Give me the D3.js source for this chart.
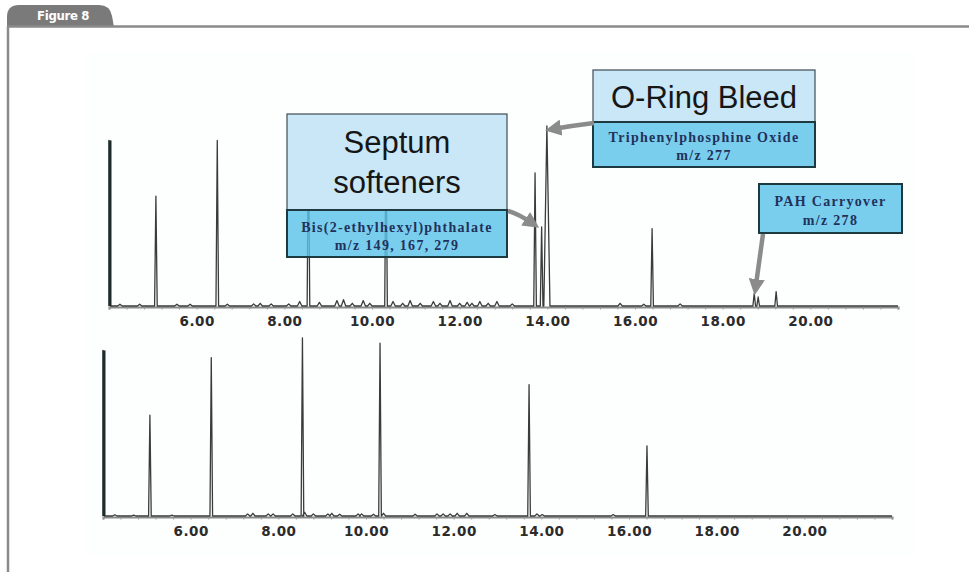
<!DOCTYPE html>
<html>
<head>
<meta charset="utf-8">
<script src="https://cdn.jsdelivr.net/npm/d3@7"></script>
<style>
  body { margin: 0; background: #fff; }
  svg { display: block; }
</style>
</head>
<body>
<div id="chart"></div>
<script>
// retention time in minutes, abundance in % of the tallest peak
const timeRange = [4, 22];
const tickLabels = [6, 8, 10, 12, 14, 16, 18, 20];

// upper run: contaminated inlet
const topPeaks = [[4.0, 92], [5.07, 61], [6.47, 92], [8.55, 98], [10.32, 96],
  [13.72, 74], [13.87, 44], [13.99, 100], [16.39, 43], [18.72, 7], [18.81, 5], [19.22, 8]];
const topNoise = [[4.25, 1], [4.7, 1], [5.55, 1], [5.85, 1], [6.7, 1], [7.3, 1.2], [7.45, 1.5],
  [7.7, 1.2], [8.1, 1.2], [8.35, 2.5], [8.8, 2], [9.2, 3], [9.35, 3.5], [9.55, 1.5], [9.8, 3],
  [9.95, 1.5], [10.48, 2.5], [10.7, 1.5], [10.87, 3], [11.1, 1.5], [11.4, 2.5], [11.55, 1.5],
  [11.78, 3], [12.0, 1.5], [12.17, 2], [12.28, 1.5], [12.46, 2.5], [12.65, 1.5], [12.85, 2.5],
  [13.2, 1.2], [15.66, 1.5], [16.2, 1], [17.03, 1.2]];

// lower run: clean inlet
const bottomPeaks = [[4.0, 92], [5.07, 56], [6.47, 88], [8.55, 99], [10.32, 96],
  [13.72, 73], [16.41, 39]];
const bottomNoise = [[4.27, 0.7], [4.7, 0.5], [5.57, 0.5], [7.3, 1.2], [7.42, 1.5], [7.77, 1.2],
  [7.88, 1.2], [8.33, 1.2], [8.6, 2], [8.8, 1.2], [9.13, 1.2], [9.22, 1.5], [9.4, 1],
  [9.82, 1.2], [9.9, 1.2], [10.17, 1], [10.4, 1.5], [11.12, 1], [11.62, 1.2], [11.76, 1.2],
  [11.92, 1.2], [12.08, 1.5], [12.3, 1.5], [12.94, 0.8], [13.9, 1.2], [14.02, 0.8], [15.64, 0.8]];

const septumTitle = ["Septum", "softeners"];
const septumDetail = ["Bis(2-ethylhexyl)phthalate", "m/z 149, 167, 279"];
const oringTitle = ["O-Ring Bleed"];
const oringDetail = ["Triphenylphosphine Oxide", "m/z 277"];
const pahDetail = ["PAH Carryover", "m/z 278"];

const width = 969, height = 572;
const svg = d3.select('#chart').append('svg')
  .attr('width', width)
  .attr('height', height);

const defs = svg.append('defs');
defs.append('marker')
  .attr('id', 'head')
  .attr('viewBox', '0 0 10 10')
  .attr('refX', 7).attr('refY', 5)
  .attr('markerWidth', 3.6).attr('markerHeight', 3.6)
  .attr('orient', 'auto')
  .append('path')
  .attr('d', 'M0,0L10,5L0,10z')
  .attr('fill', '#8b8b8b');

// figure frame + tab
svg.append('rect')
  .attr('x', 85).attr('y', 53).attr('width', 830).attr('height', 502)
  .attr('fill', '#fdfefe');
svg.append('path')
  .attr('d', 'M7,27 L7,17 Q7,5 19,5 L99,5 Q110,5 112,16 L114,27 Z')
  .attr('fill', '#7a7a7a');
svg.append('text')
  .attr('x', 37).attr('y', 20)
  .attr('fill', '#fff')
  .attr('font-family', '"Liberation Sans Narrow", "DejaVu Sans Condensed", sans-serif')
  .attr('font-weight', 'bold')
  .attr('font-size', 13)
  .attr('letter-spacing', -0.3)
  .text('Figure 8');
svg.append('line')
  .attr('x1', 7).attr('x2', width).attr('y1', 26.5).attr('y2', 26.5)
  .attr('stroke', '#8a8a8a').attr('stroke-width', 2.5);
svg.append('line')
  .attr('x1', 8).attr('x2', 8).attr('y1', 26).attr('y2', height)
  .attr('stroke', '#8a8a8a').attr('stroke-width', 2.5);

function drawPanel(peaks, noise, left, right, base) {
  const x = d3.scaleLinear().domain(timeRange).range([left, right]);
  const y = d3.scaleLinear().domain([0, 100]).range([base, base - 180]);
  const g = svg.append('g');

  // minor ticks every 0.4 min
  const minor = d3.range(0, 46).map(i => timeRange[0] + i * 0.4);
  g.append('g')
    .attr('transform', `translate(0,${base + 1})`)
    .call(d3.axisBottom(x).tickValues(minor).tickSize(2.5).tickFormat(''))
    .call(a => a.select('.domain').attr('stroke', '#8a8a8a').attr('stroke-width', 2.2))
    .call(a => a.selectAll('.tick line').attr('stroke', '#999'));

  g.append('g')
    .attr('transform', `translate(0,${base + 1})`)
    .call(d3.axisBottom(x).tickValues(tickLabels).tickSize(0).tickPadding(9)
      .tickFormat(d3.format('.2f')))
    .call(a => a.select('.domain').remove())
    .call(a => a.selectAll('text')
      .attr('fill', '#2b2b2b')
      .attr('font-family', '"DejaVu Sans", sans-serif')
      .attr('font-weight', 'bold')
      .attr('font-size', 13.5)
      .attr('letter-spacing', 0.5));

  // trace: each peak is a narrow spike on the baseline
  const all = peaks.map(p => [p[0], p[1], 0.03]).concat(noise.map(p => [p[0], p[1], 0.05]))
    .sort((a, b) => a[0] - b[0]);
  const pts = [[timeRange[0], 0]];
  all.forEach(([t, h, w]) => {
    const hw = h >= 100 ? 0.07 : w;
    pts.push([Math.max(timeRange[0], t - hw), 0], [t, h], [t + hw, 0]);
  });
  pts.push([timeRange[1], 0]);

  const line = d3.line().x(d => x(d[0])).y(d => y(d[1]));
  g.append('path')
    .datum(pts)
    .attr('d', line)
    .attr('fill', 'none')
    .attr('stroke', '#3b3b3b')
    .attr('stroke-width', 1.3)
    .attr('stroke-linejoin', 'round');

  // solvent front drawn heavier
  const front = peaks[0];
  g.append('line')
    .attr('x1', x(front[0]) + 1).attr('x2', x(front[0]) + 1)
    .attr('y1', y(0)).attr('y2', y(front[1]))
    .attr('stroke', '#1f2b2b').attr('stroke-width', 3);

  return { x, y };
}

const topPanel = drawPanel(topPeaks, topNoise, 109, 898, 306);
drawPanel(bottomPeaks, bottomNoise, 103, 892, 516);

function callout(bx, by, bw, titleLines, titleH, titleBase, detailLines, detailH, detailBase) {
  const g = svg.append('g');
  let yy = by;
  if (titleLines.length) {
    g.append('rect')
      .attr('x', bx).attr('y', yy).attr('width', bw).attr('height', titleH)
      .attr('fill', '#c9e7f7').attr('stroke', '#3e4d52').attr('stroke-width', 1.2);
    titleLines.forEach((s, i) => {
      g.append('text')
        .attr('x', bx + bw / 2).attr('y', titleBase[i])
        .attr('text-anchor', 'middle')
        .attr('font-family', '"Liberation Sans", Arial, sans-serif')
        .attr('font-size', 31)
        .attr('fill', '#161616')
        .text(s);
    });
    yy += titleH;
  }
  g.append('rect')
    .attr('x', bx).attr('y', yy).attr('width', bw).attr('height', detailH)
    .attr('fill', '#5cc3ea').attr('fill-opacity', 0.82)
    .attr('stroke', '#1c3a40').attr('stroke-width', 2);
  detailLines.forEach((s, i) => {
    g.append('text')
      .attr('x', bx + bw / 2).attr('y', detailBase[i])
      .attr('text-anchor', 'middle')
      .attr('font-family', '"Liberation Serif", "Times New Roman", serif')
      .attr('font-weight', 'bold')
      .attr('font-size', 14)
      .attr('letter-spacing', 1.3)
      .attr('fill', '#22315a')
      .text(s);
  });
}

callout(287, 114, 220, septumTitle, 96, [153, 193], septumDetail, 47, [232, 250]);
callout(593, 70, 222, oringTitle, 52, [108], oringDetail, 45, [142, 160]);
callout(759, 184, 143, [], 0, [], pahDetail, 49, [206, 225]);

// arrows to the peaks
function arrow(d) {
  svg.append('path')
    .attr('d', d)
    .attr('fill', 'none')
    .attr('stroke', '#8b8b8b')
    .attr('stroke-width', 4.5)
    .attr('marker-end', 'url(#head)');
}
const sx = topPanel.x(topPeaks[5][0]), sy = topPanel.y(45);
arrow(`M508,211 Q${sx - 18},${sy - 12} ${sx},${sy}`);
const ox = topPanel.x(topPeaks[7][0]), oy = topPanel.y(98);
arrow(`M594,123 Q${ox + 25},${oy - 4} ${ox + 3},${oy}`);
const px = topPanel.x(topPeaks[9][0]), py = topPanel.y(topPeaks[9][1]);
arrow(`M763,234 L${px + 1},${py - 3}`);
</script>
</body>
</html>
